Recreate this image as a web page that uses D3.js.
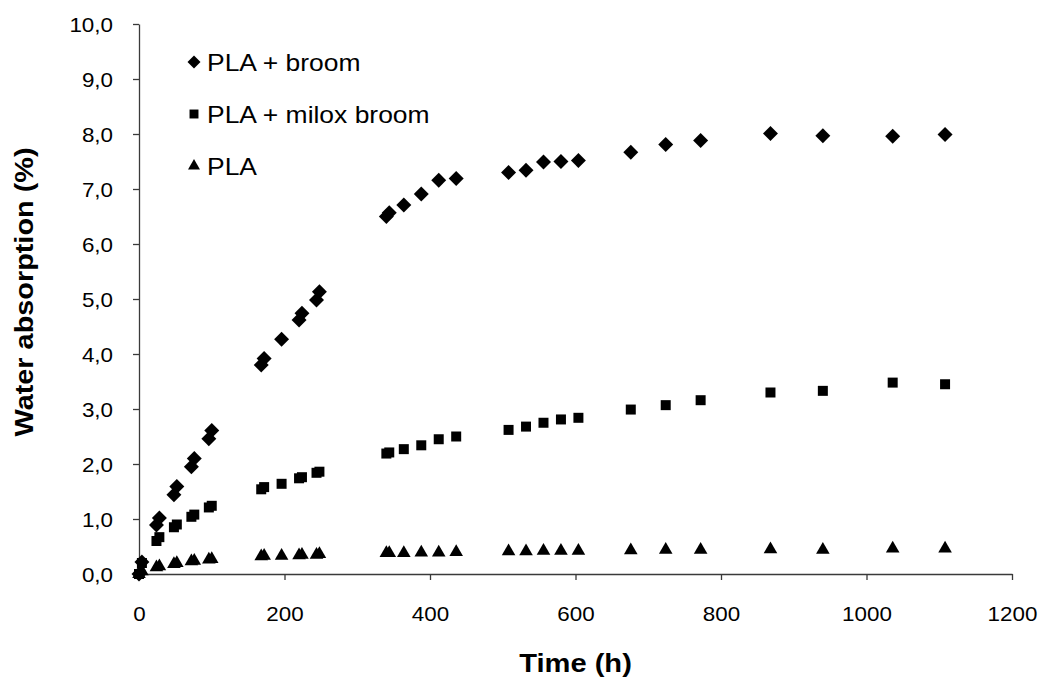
<!DOCTYPE html>
<html>
<head>
<meta charset="utf-8">
<script src="https://cdn.jsdelivr.net/npm/d3@7"></script>
<style>
  html, body { margin: 0; padding: 0; background: #fff; }
  svg { display: block; }
  text { font-family: "Liberation Sans", Arial, sans-serif; fill: #000; }
</style>
</head>
<body>
<svg id="chart" width="1039" height="679"></svg>
<script>
// ---- data ----
const timeH = [0, 4, 24, 28, 48, 52, 72, 76, 96, 100, 168, 172, 196, 220, 224, 244, 248,
  340, 344, 364, 388, 412, 436, 508, 532, 556, 580, 604, 676, 724, 772, 868, 940, 1036, 1108];
const plaBroom = [0, 0.22, 0.89, 1.02, 1.44, 1.59, 1.95, 2.10, 2.46, 2.61, 3.80, 3.92, 4.27, 4.62, 4.74, 4.98, 5.13,
  6.50, 6.57, 6.71, 6.91, 7.16, 7.19, 7.30, 7.34, 7.49, 7.50, 7.52, 7.67, 7.81, 7.88, 8.01, 7.97, 7.96, 7.99];
const plaMiloxBroom = [0, 0.20, 0.60, 0.67, 0.85, 0.90, 1.04, 1.08, 1.21, 1.24, 1.54, 1.58, 1.64, 1.74, 1.76, 1.84, 1.86,
  2.19, 2.21, 2.27, 2.34, 2.45, 2.50, 2.62, 2.68, 2.75, 2.81, 2.84, 2.99, 3.07, 3.16, 3.30, 3.33, 3.48, 3.45];
const pla = [0, 0.05, 0.12, 0.14, 0.18, 0.20, 0.23, 0.24, 0.26, 0.27, 0.32, 0.33, 0.33, 0.34, 0.35, 0.35, 0.36,
  0.38, 0.38, 0.38, 0.39, 0.39, 0.40, 0.41, 0.41, 0.42, 0.42, 0.42, 0.43, 0.44, 0.44, 0.45, 0.44, 0.46, 0.46];
const seriesNames = ["PLA + broom", "PLA + milox broom", "PLA"];
const xTicks = [0, 200, 400, 600, 800, 1000, 1200];
const yTicks = [0, 1, 2, 3, 4, 5, 6, 7, 8, 9, 10];
const xTitle = "Time (h)";
const yTitle = "Water absorption (%)";

// ---- layout ----
const svg = d3.select("#chart");
const x = d3.scaleLinear().domain([0, 1200]).range([139, 1012]);
const y = d3.scaleLinear().domain([0, 10]).range([574, 24]);
const fmt = v => d3.format(".1f")(v).replace(".", ",");
const axisColor = "#3a3a3a";
const tickScale = 1.12;

// y axis
const gy = svg.append("g").attr("transform", `translate(${x(0)},0)`)
  .call(d3.axisLeft(y).tickValues(yTicks).tickFormat(fmt).tickSize(6).tickSizeOuter(0).tickPadding(0));
gy.selectAll("path, line").attr("stroke", axisColor).attr("stroke-width", 1.3);
gy.selectAll("text")
  .attr("font-size", 20)
  .attr("font-family", "Liberation Sans, Arial, sans-serif")
  .attr("x", -26 / tickScale)
  .attr("dy", "0.35em")
  .attr("transform", `scale(${tickScale},1)`)
  .attr("fill", "#000");

// x axis
const gx = svg.append("g").attr("transform", `translate(0,${y(0)})`)
  .call(d3.axisBottom(x).tickValues(xTicks).tickFormat(d3.format("d")).tickSize(6).tickSizeOuter(0));
gx.selectAll("path, line").attr("stroke", axisColor).attr("stroke-width", 1.3);
gx.selectAll("text")
  .attr("font-size", 20)
  .attr("font-family", "Liberation Sans, Arial, sans-serif")
  .attr("y", 47)
  .attr("dy", 0)
  .attr("transform", `scale(${tickScale},1)`)
  .attr("fill", "#000");

// axis titles
svg.append("text")
  .attr("transform", `translate(${(x(0) + x(1200)) / 2},672) scale(1.12,1)`)
  .attr("text-anchor", "middle")
  .attr("font-size", 26).attr("font-weight", "bold")
  .text(xTitle);
svg.append("text")
  .attr("transform", `translate(33,292) rotate(-90) scale(1.11,1)`)
  .attr("text-anchor", "middle")
  .attr("font-size", 26).attr("font-weight", "bold")
  .text(yTitle);

// ---- markers ----
const symDiamond = d3.symbol().type(d3.symbolSquare).size(112);
const symSquare = d3.symbol().type(d3.symbolSquare).size(100);
const symTriangle = d3.symbol().type(d3.symbolTriangle).size(80);

const series = [
  { name: seriesNames[0], values: plaBroom, path: symDiamond(), rot: 45 },
  { name: seriesNames[1], values: plaMiloxBroom, path: symSquare(), rot: 0 },
  { name: seriesNames[2], values: pla, path: symTriangle(), rot: 0 }
];

// draw PLA first, then milox, then broom
[2, 1, 0].forEach(i => {
  const s = series[i];
  svg.append("g").selectAll("path")
    .data(timeH.map((t, k) => [t, s.values[k]]))
    .join("path")
    .attr("d", s.path)
    .attr("transform", d => `translate(${x(d[0])},${y(d[1])}) rotate(${s.rot})`)
    .attr("fill", "#000");
});

// ---- legend ----
const legendY = [62, 114, 166];
const legendSyms = [
  d3.symbol().type(d3.symbolSquare).size(85)(),
  d3.symbol().type(d3.symbolSquare).size(80)(),
  d3.symbol().type(d3.symbolTriangle).size(62)()
];
series.forEach((s, i) => {
  const g = svg.append("g").attr("transform", `translate(0,${legendY[i]})`);
  g.append("path")
    .attr("d", legendSyms[i])
    .attr("transform", `translate(194,0) rotate(${s.rot})`)
    .attr("fill", "#000");
  g.append("text")
    .attr("transform", `translate(207,8.5) scale(1.15,1)`)
    .attr("font-size", 23)
    .text(s.name);
});
</script>
</body>
</html>
